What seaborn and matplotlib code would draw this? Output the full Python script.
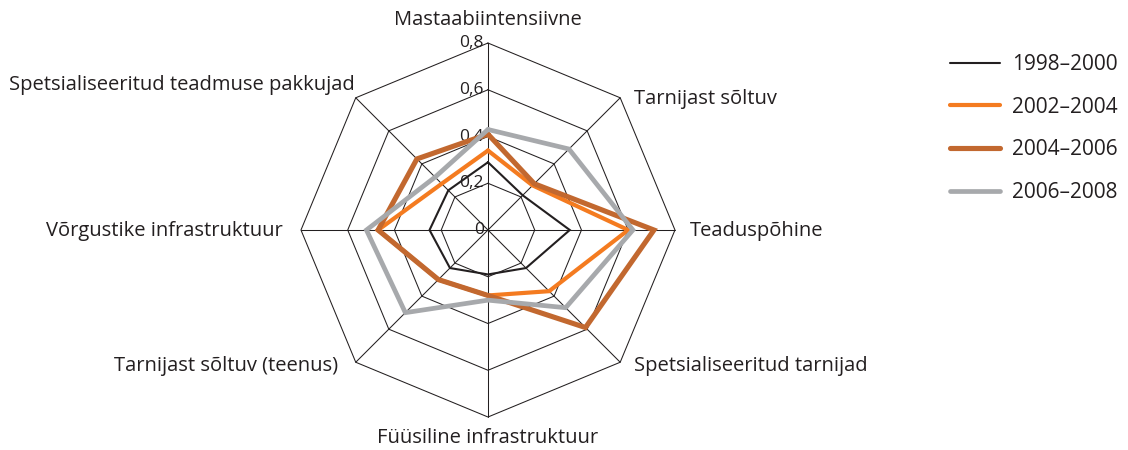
import numpy as np
import pandas as pd
import seaborn as sns
import matplotlib.pyplot as plt

sns.set_theme(style="white")
plt.rcParams['font.family'] = ['Open Sans', 'DejaVu Sans']

# Axis categories, clockwise from the top
categories = [
    "Mastaabiintensiivne",
    "Tarnijast sõltuv",
    "Teaduspõhine",
    "Spetsialiseeritud tarnijad",
    "Füüsiline infrastruktuur",
    "Tarnijast sõltuv (teenus)",
    "Võrgustike infrastruktuur",
    "Spetsialiseeritud teadmuse pakkujad",
]

periods = ["1998–2000", "2002–2004", "2004–2006", "2006–2008"]

values_1998_2000 = [0.29, 0.21, 0.35, 0.23, 0.19, 0.23, 0.25, 0.24]
values_2002_2004 = [0.34, 0.27, 0.60, 0.37, 0.28, 0.30, 0.47, 0.28]
values_2004_2006 = [0.41, 0.28, 0.71, 0.59, 0.28, 0.30, 0.47, 0.43]
values_2006_2008 = [0.43, 0.49, 0.62, 0.47, 0.30, 0.50, 0.52, 0.32]

tick_values = [0.0, 0.2, 0.4, 0.6, 0.8]
tick_labels = ["0", "0,2", "0,4", "0,6", "0,8"]

colors = {"1998–2000": "#231f20", "2002–2004": "#f47b20",
          "2004–2006": "#c2682f", "2006–2008": "#a7a9ac"}
widths = {"1998–2000": 1.5, "2002–2004": 3.0, "2004–2006": 3.7, "2006–2008": 3.4}

series = [values_1998_2000, values_2002_2004, values_2004_2006, values_2006_2008]
n = len(categories)
angles = np.linspace(0, 2 * np.pi, n, endpoint=False)
angles_closed = np.append(angles, 2 * np.pi)

rows = []
for period, vals in zip(periods, series):
    closed = list(vals) + [vals[0]]
    for i, (t, v) in enumerate(zip(angles_closed, closed)):
        rows.append({"theta": t, "value": v, "period": period, "order": i})
df = pd.DataFrame(rows)

fig = plt.figure(figsize=(11.28, 4.5), dpi=100)
ax = fig.add_axes([0.2668, 0.0733, 0.3316, 0.8311], projection="polar")
ax.set_theta_offset(np.pi / 2)
ax.set_theta_direction(-1)
ax.set_ylim(0, 0.8)
ax.grid(False)
ax.spines["polar"].set_visible(False)
ax.set_xticks([])
ax.set_yticks([])

grid_color = "#231f20"
# octagonal rings
for r in tick_values[1:]:
    ax.plot(angles_closed, [r] * len(angles_closed), color=grid_color,
            lw=0.75, zorder=1, clip_on=False)
# spokes
for t in angles:
    ax.plot([t, t], [0, 0.8], color=grid_color, lw=0.75, zorder=1, clip_on=False)

# scale labels along the top spoke
for r, lab in zip(tick_values, tick_labels):
    ax.annotate(lab, xy=(0, r), xytext=(-4, 0), textcoords="offset pixels",
                ha="right", va="center", fontsize=12.5, color="#231f20", zorder=2)

sns.lineplot(data=df, x="theta", y="value", hue="period", size="period",
             palette=colors, sizes=widths, hue_order=periods, size_order=periods,
             sort=False, estimator=None, units="period", ax=ax, zorder=3,
             solid_joinstyle="miter", clip_on=False)
ax.set_xlabel("")
ax.set_ylabel("")

# category labels around the chart
label_offsets = [
    ((0, 23), "center", "center"),
    ((14, -1), "left", "center"),
    ((15, -1), "left", "center"),
    ((14, -4), "left", "center"),
    ((0, -21), "center", "center"),
    ((-18, -4), "right", "center"),
    ((-18, -1), "right", "center"),
    ((-1, 13), "right", "center"),
]
for t, cat, (off, ha, va) in zip(angles, categories, label_offsets):
    ax.annotate(cat, xy=(t, 0.8), xytext=off, textcoords="offset pixels",
                ha=ha, va=va, fontsize=14.5, color="#231f20", annotation_clip=False)

leg = ax.get_legend()
handles = [h for h, t in zip(leg.legend_handles, leg.get_texts()) if t.get_text() in periods]
labels = [t.get_text() for t in leg.get_texts() if t.get_text() in periods]
leg.remove()
for h in handles:
    h.set_solid_capstyle("round")
fig.legend(handles, labels, loc="upper left", bbox_to_anchor=(0.842, 0.880),
           bbox_transform=fig.transFigure, frameon=False, fontsize=15,
           handlelength=2.4, handletextpad=0.58, labelspacing=1.04,
           borderpad=0, borderaxespad=0, labelcolor="#231f20")

fig.savefig("out.png", dpi=100, facecolor="white")
